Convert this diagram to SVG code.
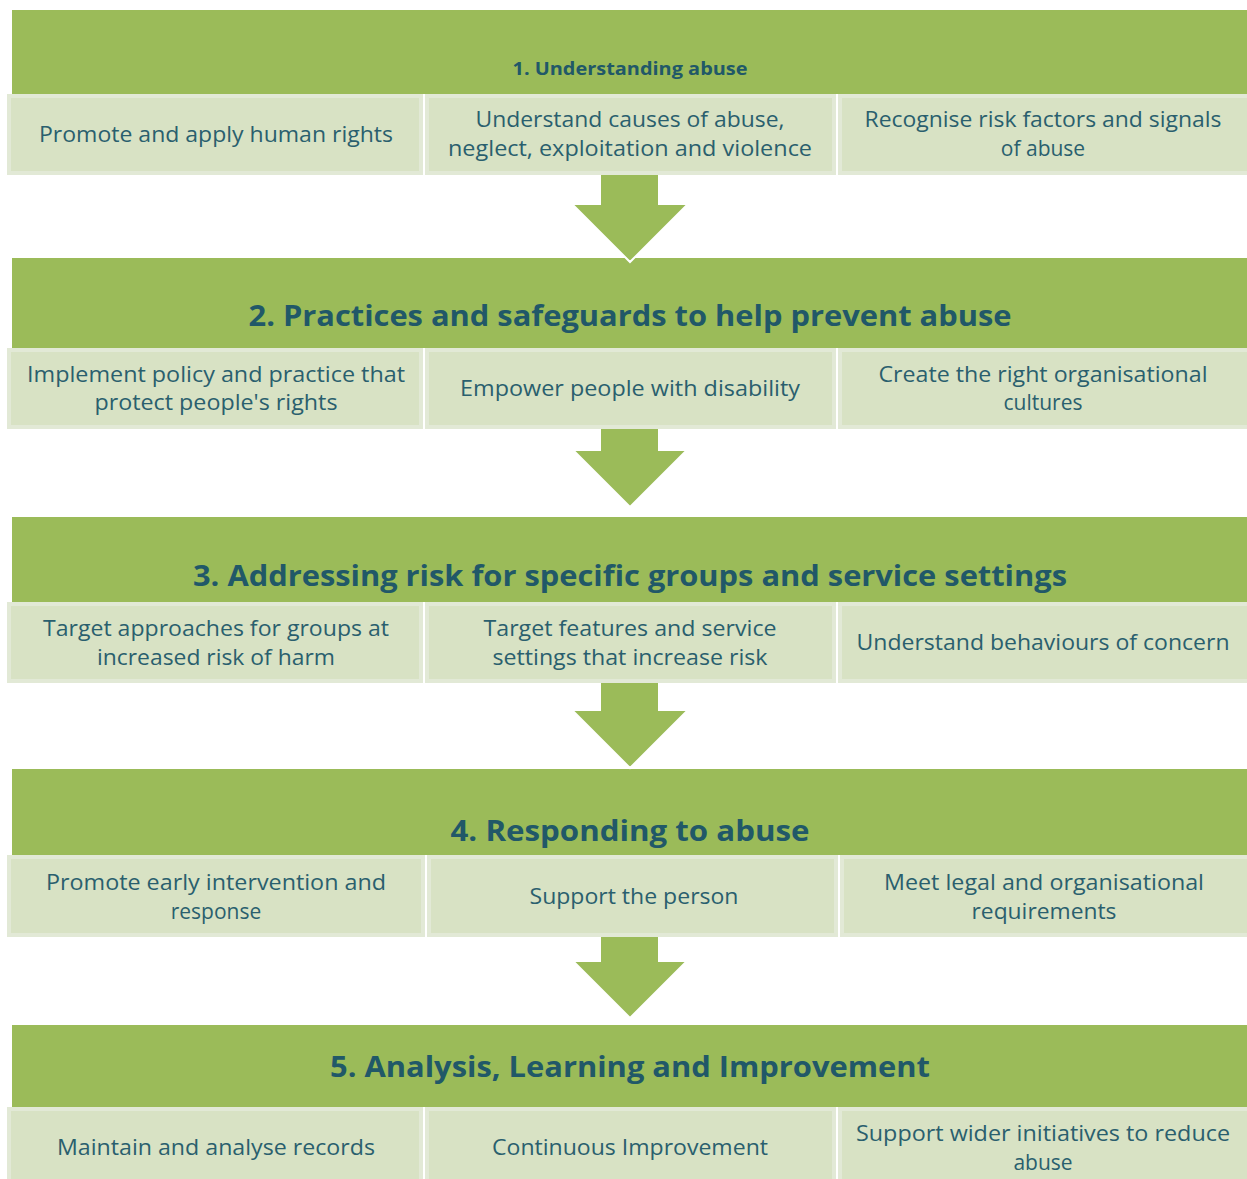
<svg xmlns="http://www.w3.org/2000/svg" width="1247" height="1179" viewBox="0 0 1247 1179">
<style>
.band{fill:#9bbb59}
.box{fill:#d8e2c4;stroke:#e2e9d6;stroke-width:4}
.arrow{fill:#9bbb59;stroke:#ffffff;stroke-width:2;stroke-linejoin:miter}
.title{font-family:"Open Sans","Liberation Sans",sans-serif;font-weight:bold;fill:#215868;text-anchor:middle;font-size:29px}
.t1{font-size:17px}
.txt{font-family:"Open Sans","Liberation Sans",sans-serif;fill:#2a5f6e;text-anchor:middle;font-size:21px}
</style>
<rect width="1247" height="1179" fill="#ffffff"/>
<g id="stage1">
<rect class="band" x="12" y="10" width="1235" height="84"/>
<text class="title t1" x="630" y="75" textLength="235" lengthAdjust="spacingAndGlyphs">1. Understanding abuse</text>
</g>
<g id="stage2">
<rect class="band" x="12" y="258" width="1235" height="90"/>
<text class="title" x="630" y="326" textLength="763" lengthAdjust="spacingAndGlyphs">2. Practices and safeguards to help prevent abuse</text>
</g>
<g id="stage3">
<rect class="band" x="12" y="517" width="1235" height="85"/>
<text class="title" x="630" y="586" textLength="874" lengthAdjust="spacingAndGlyphs">3. Addressing risk for specific groups and service settings</text>
</g>
<g id="stage4">
<rect class="band" x="12" y="769" width="1235" height="86"/>
<text class="title" x="630" y="841" textLength="359" lengthAdjust="spacingAndGlyphs">4. Responding to abuse</text>
</g>
<g id="stage5">
<rect class="band" x="12" y="1025" width="1235" height="82"/>
<text class="title" x="630" y="1077" textLength="600" lengthAdjust="spacingAndGlyphs">5. Analysis, Learning and Improvement</text>
</g>
<g id="connectors">
<polygon class="arrow" points="600,172 659,172 659,204 688,204 630,262 572,204 600,204"/>
<polygon class="arrow" points="600,426 659,426 659,450 687,450 630,507 573,450 600,450"/>
<polygon class="arrow" points="600,680 659,680 659,710 688,710 630,768 572,710 600,710"/>
<polygon class="arrow" points="600,934 659,934 659,961 687,961 630,1018 573,961 600,961"/>
</g>
<g id="s1a"><rect class="box" x="9" y="96" width="412" height="77"/>
<text class="txt" x="216" y="142" textLength="354" lengthAdjust="spacingAndGlyphs">Promote and apply human rights</text></g>
<g id="s1b"><rect class="box" x="427" y="96" width="407" height="77"/>
<text class="txt" x="630" y="127" textLength="309" lengthAdjust="spacingAndGlyphs">Understand causes of abuse,</text>
<text class="txt" x="630" y="156" textLength="364" lengthAdjust="spacingAndGlyphs">neglect, exploitation and violence</text></g>
<g id="s1c"><rect class="box" x="840" y="96" width="409" height="77"/>
<text class="txt" x="1043" y="127" textLength="357" lengthAdjust="spacingAndGlyphs">Recognise risk factors and signals</text>
<text class="txt" x="1043" y="156">of abuse</text></g>
<g id="s2a"><rect class="box" x="9" y="350" width="412" height="77"/>
<text class="txt" x="216" y="382" textLength="378" lengthAdjust="spacingAndGlyphs">Implement policy and practice that</text>
<text class="txt" x="216" y="410" textLength="243" lengthAdjust="spacingAndGlyphs">protect people's rights</text></g>
<g id="s2b"><rect class="box" x="427" y="350" width="407" height="77"/>
<text class="txt" x="630" y="396" textLength="340" lengthAdjust="spacingAndGlyphs">Empower people with disability</text></g>
<g id="s2c"><rect class="box" x="840" y="350" width="409" height="77"/>
<text class="txt" x="1043" y="382" textLength="329" lengthAdjust="spacingAndGlyphs">Create the right organisational</text>
<text class="txt" x="1043" y="410">cultures</text></g>
<g id="s3a"><rect class="box" x="9" y="604" width="412" height="77"/>
<text class="txt" x="216" y="636" textLength="346" lengthAdjust="spacingAndGlyphs">Target approaches for groups at</text>
<text class="txt" x="216" y="665" textLength="238" lengthAdjust="spacingAndGlyphs">increased risk of harm</text></g>
<g id="s3b"><rect class="box" x="427" y="604" width="407" height="77"/>
<text class="txt" x="630" y="636" textLength="293" lengthAdjust="spacingAndGlyphs">Target features and service</text>
<text class="txt" x="630" y="665" textLength="275" lengthAdjust="spacingAndGlyphs">settings that increase risk</text></g>
<g id="s3c"><rect class="box" x="840" y="604" width="409" height="77"/>
<text class="txt" x="1043" y="650" textLength="373" lengthAdjust="spacingAndGlyphs">Understand behaviours of concern</text></g>
<g id="s4a"><rect class="box" x="9" y="857" width="414" height="78"/>
<text class="txt" x="216" y="890" textLength="340" lengthAdjust="spacingAndGlyphs">Promote early intervention and</text>
<text class="txt" x="216" y="919">response</text></g>
<g id="s4b"><rect class="box" x="429" y="857" width="407" height="78"/>
<text class="txt" x="634" y="904" textLength="209" lengthAdjust="spacingAndGlyphs">Support the person</text></g>
<g id="s4c"><rect class="box" x="842" y="857" width="407" height="78"/>
<text class="txt" x="1044" y="890" textLength="320" lengthAdjust="spacingAndGlyphs">Meet legal and organisational</text>
<text class="txt" x="1044" y="919" textLength="145" lengthAdjust="spacingAndGlyphs">requirements</text></g>
<g id="s5a"><rect class="box" x="9" y="1109" width="412" height="80"/>
<text class="txt" x="216" y="1155" textLength="318" lengthAdjust="spacingAndGlyphs">Maintain and analyse records</text></g>
<g id="s5b"><rect class="box" x="427" y="1109" width="407" height="80"/>
<text class="txt" x="630" y="1155" textLength="276" lengthAdjust="spacingAndGlyphs">Continuous Improvement</text></g>
<g id="s5c"><rect class="box" x="840" y="1109" width="409" height="80"/>
<text class="txt" x="1043" y="1141" textLength="374" lengthAdjust="spacingAndGlyphs">Support wider initiatives to reduce</text>
<text class="txt" x="1043" y="1170">abuse</text></g>
</svg>
